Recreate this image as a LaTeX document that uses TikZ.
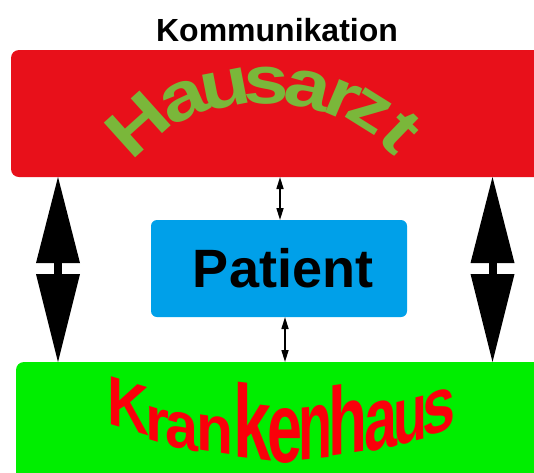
\documentclass[tikz,border=0pt]{standalone}
\usepackage{fontspec}
\setmainfont{Liberation Sans}
\usetikzlibrary{arrows.meta,calc}
\definecolor{hred}{RGB}{232,16,26}
\definecolor{hgreen}{RGB}{122,183,58}
\definecolor{pblue}{RGB}{0,160,233}
\definecolor{kgreen}{RGB}{0,238,0}
\definecolor{kred}{RGB}{250,0,10}
\begin{document}
\begin{tikzpicture}[x=1pt,y=-1pt,
  box/.style={draw=none,inner sep=0pt,outer sep=0pt,rounded corners=8pt},
  hzl/.style={inner sep=0pt,outer sep=0pt,text=hgreen,font=\fontsize{68}{68}\selectfont\bfseries},
  kl/.style={inner sep=0pt,outer sep=0pt,text=kred,font=\fontsize{40}{40}\selectfont\bfseries},
  smallarr/.style={line width=1.6pt,arrows={Triangle[width=7pt,length=12pt]-Triangle[width=7pt,length=12pt]}},
  bigarr/.style={line width=8pt,arrows={Triangle[width=44pt,length=86pt,line width=0pt]-Triangle[width=44pt,length=88pt,line width=0pt]}}]
\useasboundingbox (0,0) rectangle (534,472);
\clip (0,0) rectangle (534,472);
\fill[white] (0,0) rectangle (534,472);
\node[anchor=base,inner sep=0pt,font=\fontsize{32}{32}\selectfont\bfseries] (title) at (277,41) {Kommunikation};
\node[box,fill=hred,minimum width=600pt,minimum height=127pt,anchor=north west] (hausarzt) at (11,50) {};
\node[box,fill=kgreen,minimum width=600pt,minimum height=150pt,anchor=north west] (krankenhaus) at (16,362) {};
\node[box,fill=pblue,rounded corners=6pt,minimum width=256pt,minimum height=97pt,font=\fontsize{54}{54}\selectfont\bfseries] (patient) at (279,268.5) {\hspace*{8pt}Patient};
\foreach \ch/\x/\y/\r [count=\i] in {H/138.2/123.9/42, a/184.2/100.4/24, u/225.2/89.3/11, s/266/86/-0.5, a/307.9/90.3/-13, r/342/99.7/-23, z/369/111.5/-32, t/400/132.1/-44}
  \node[hzl,rotate=\r] (hz\i) at (\x,\y) {\scalebox{1.2}[1]{\ch}};
\foreach \ch/\x/\y/\w/\h/\s [count=\i] in {K/128/430/42/48/-0.3, r/157/442/24/34/-0.3, a/181.5/449/33/36/-0.2, n/214.5/452/37/36/-0.15, k/252/459/38/75/-0.12, e/284.5/462/35/54/0, n/315/459/34/53/0.1, h/347.5/454/39/70/0.15, a/380.5/449/33/48/0.2, u/410/442/34/43/0.25, s/438.5/433/33/42/0.3}
  \node[kl,anchor=base,yslant=\s] (kh\i) at (\x,\y) {\resizebox{\w pt}{\h pt}{\ch}};
\coordinate (pa) at (280,0);
\coordinate (pb) at (285,0);
\coordinate (bl) at (58,0);
\coordinate (br) at (492.5,0);
\draw[smallarr] (hausarzt.south -| pa) -- (patient.north -| pa);
\draw[smallarr] (patient.south -| pb) -- (krankenhaus.north -| pb);
\draw[bigarr] (hausarzt.south -| bl) -- (krankenhaus.north -| bl);
\draw[bigarr] (hausarzt.south -| br) -- (krankenhaus.north -| br);
\end{tikzpicture}
\end{document}
